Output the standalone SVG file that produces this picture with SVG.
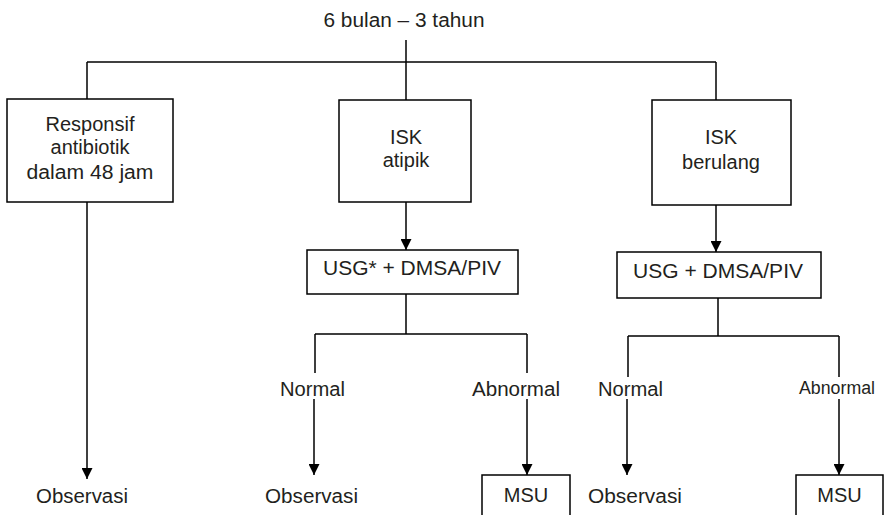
<svg xmlns="http://www.w3.org/2000/svg" width="884" height="515" viewBox="0 0 884 515">
<defs>
<marker id="arr" markerUnits="userSpaceOnUse" markerWidth="12" markerHeight="11" refX="11" refY="5.5" orient="auto">
<path d="M0,0 L11,5.5 L0,11 Z" fill="#000"/>
</marker>
<style>
text{font-family:"Liberation Sans",Arial,sans-serif;font-size:20px;fill:#231f20;text-anchor:middle}
.box{fill:#fff;stroke:#000;stroke-width:1.5}
.ln{fill:none;stroke:#000;stroke-width:1.5}
.small{font-size:18px}
</style>
</defs>
<rect width="884" height="515" fill="#fff"/>
<g id="connectors">
<path class="ln" d="M406,40 V100"/>
<path class="ln" d="M87,62 H716"/>
<path class="ln" d="M87,62 V99"/>
<path class="ln" d="M716,62 V100"/>
<path class="ln" d="M87,202 V479" marker-end="url(#arr)"/>
<path class="ln" d="M406,202 V250" marker-end="url(#arr)"/>
<path class="ln" d="M716,205 V252" marker-end="url(#arr)"/>
<path class="ln" d="M406,294 V334 M315,334 H527 M315,334 V373 M527,334 V373"/>
<path class="ln" d="M314,399 V475" marker-end="url(#arr)"/>
<path class="ln" d="M527,399 V475" marker-end="url(#arr)"/>
<path class="ln" d="M718,298 V336 M628,336 H839 M628,336 V377 M839,336 V377"/>
<path class="ln" d="M627,399 V475" marker-end="url(#arr)"/>
<path class="ln" d="M839,399 V475" marker-end="url(#arr)"/>
</g>
<g id="title"><text x="404" y="27" textLength="161" lengthAdjust="spacingAndGlyphs">6 bulan – 3 tahun</text></g>
<g id="responsif">
<rect class="box" x="7" y="99" width="166" height="103"/>
<text x="90" y="131">Responsif</text>
<text x="90" y="154">antibiotik</text>
<text x="90" y="179" textLength="127" lengthAdjust="spacingAndGlyphs">dalam 48 jam</text>
</g>
<g id="isk-atipik">
<rect class="box" x="339" y="100" width="132" height="102"/>
<text x="406" y="144">ISK</text>
<text x="406" y="167">atipik</text>
</g>
<g id="isk-berulang">
<rect class="box" x="652" y="100" width="139" height="105"/>
<text x="721" y="144">ISK</text>
<text x="721" y="169">berulang</text>
</g>
<g id="usg1">
<rect class="box" x="307" y="250" width="211" height="44"/>
<text x="412" y="275" textLength="178" lengthAdjust="spacingAndGlyphs">USG* + DMSA/PIV</text>
</g>
<g id="usg2">
<rect class="box" x="617" y="252" width="204" height="46"/>
<text x="718" y="278" textLength="170" lengthAdjust="spacingAndGlyphs">USG + DMSA/PIV</text>
</g>
<g id="normal1"><text x="312.5" y="396" textLength="65" lengthAdjust="spacingAndGlyphs">Normal</text></g>
<g id="abnormal1"><text x="516" y="396" textLength="88" lengthAdjust="spacingAndGlyphs">Abnormal</text></g>
<g id="normal2"><text x="630.5" y="396" textLength="65" lengthAdjust="spacingAndGlyphs">Normal</text></g>
<g id="abnormal2"><text class="small" x="837" y="394" textLength="76" lengthAdjust="spacingAndGlyphs">Abnormal</text></g>
<g id="obs1"><text x="82" y="503" textLength="92" lengthAdjust="spacingAndGlyphs">Observasi</text></g>
<g id="obs2"><text x="311.5" y="503" textLength="93" lengthAdjust="spacingAndGlyphs">Observasi</text></g>
<g id="obs3"><text x="635" y="503" textLength="94" lengthAdjust="spacingAndGlyphs">Observasi</text></g>
<g id="msu1">
<rect class="box" x="482" y="475" width="88" height="50"/>
<text x="526" y="502">MSU</text>
</g>
<g id="msu2">
<rect class="box" x="796" y="475" width="87" height="50"/>
<text x="839.5" y="502">MSU</text>
</g>
</svg>
